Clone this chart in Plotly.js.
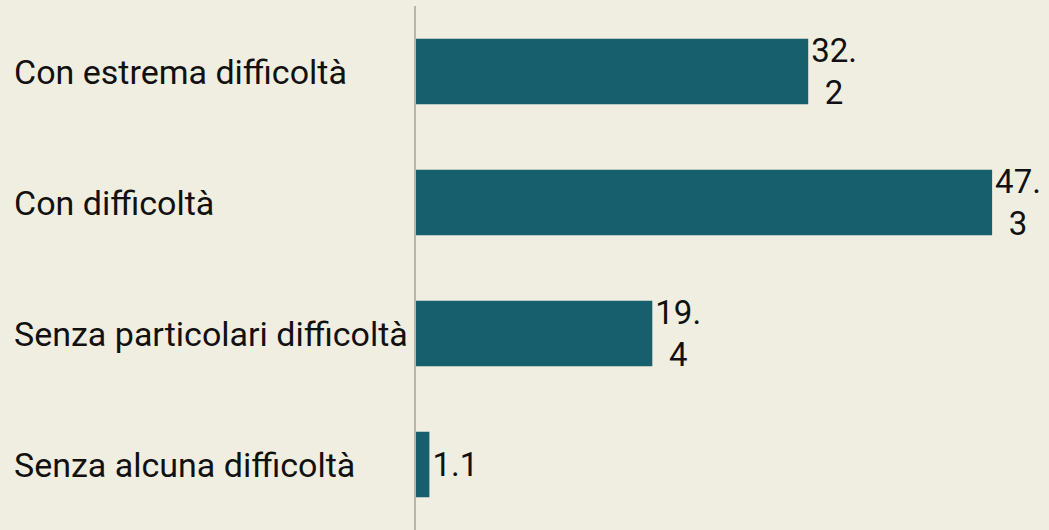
<!DOCTYPE html>
<html>
<head>
<meta charset="utf-8">
<script src="https://cdn.plot.ly/plotly-3.0.1.min.js"></script>
<style>html,body{margin:0;padding:0;background:#f0eee0;}#chart{width:1049px;height:530px;}</style>
</head>
<body>
<div id="chart"></div>
<script>
const categories = ["Con estrema difficoltà", "Con difficoltà", "Senza particolari difficoltà", "Senza alcuna difficoltà"];
const values = [32.2, 47.3, 19.4, 1.1];

// labels wrap after the decimal point when they are too wide (as in the reference)
const labels = values.map(v => {
  const s = v.toFixed(1);
  return s.length > 3 ? s.replace('.', '.<br>') : s;
});

const W = 1049, H = 530, L = 416, R = 4;
const trace = {
  type: 'bar', orientation: 'h',
  y: categories, x: values,
  marker: {color: '#175f6d'},
  text: labels, textposition: 'outside', cliponaxis: false, constraintext: 'none',
  textfont: {family: 'Roboto', size: 33, color: '#111'},
  hoverinfo: 'none'
};
const annotations = categories.map(c => ({
  xref: 'paper', yref: 'y', x: (12 - L) / (W - L - R), y: c,
  xanchor: 'left', yanchor: 'middle', showarrow: false, text: c,
  font: {family: 'Roboto', size: 34, color: '#111'}
}));
const layout = {
  width: W, height: H,
  margin: {l: L, r: R, t: 6, b: 0, pad: 0},
  paper_bgcolor: '#f0eee0', plot_bgcolor: '#f0eee0',
  bargap: 0.5, showlegend: false,
  xaxis: {range: [0, (W - L - R) / 12.18], showgrid: false, zeroline: false, showticklabels: false, showline: false, ticks: ''},
  yaxis: {autorange: 'reversed', showticklabels: false, showgrid: false, zeroline: false, showline: true, linecolor: '#b8b6ac', linewidth: 2, ticks: ''},
  annotations: annotations,
  font: {family: 'Roboto'}
};
Plotly.newPlot('chart', [trace], layout, {staticPlot: true, displayModeBar: false});
</script>
</body>
</html>
